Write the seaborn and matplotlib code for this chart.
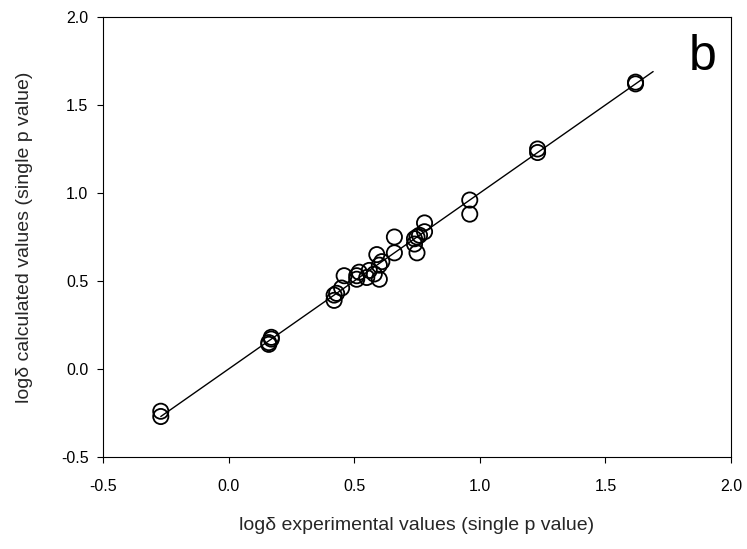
import matplotlib
matplotlib.use("Agg")
import matplotlib.pyplot as plt
import seaborn as sns
import pandas as pd

# Data
exp_vals = [-0.27, -0.27, 0.16, 0.16, 0.17, 0.17, 0.42, 0.42, 0.43, 0.45,
            0.46, 0.51, 0.51, 0.52, 0.55, 0.56, 0.58, 0.59, 0.60, 0.60,
            0.61, 0.66, 0.66, 0.74, 0.74, 0.75, 0.75, 0.76, 0.78, 0.78,
            0.96, 0.96, 1.23, 1.23, 1.62, 1.62]
calc_vals = [-0.24, -0.27, 0.14, 0.15, 0.17, 0.18, 0.39, 0.42, 0.43, 0.46,
             0.53, 0.51, 0.53, 0.55, 0.52, 0.56, 0.54, 0.65, 0.51, 0.59,
             0.61, 0.66, 0.75, 0.71, 0.74, 0.66, 0.75, 0.76, 0.78, 0.83,
             0.96, 0.88, 1.25, 1.23, 1.63, 1.62]
fit_x = [-0.27, 1.69]
fit_y = [-0.27, 1.69]
ticks = [-0.5, 0.0, 0.5, 1.0, 1.5, 2.0]
tick_labels = ["-0.5", "0.0", "0.5", "1.0", "1.5", "2.0"]

sns.set_theme(style="ticks")
plt.rcParams['font.family'] = ['Liberation Sans', 'DejaVu Sans']

df = pd.DataFrame({"exp": exp_vals, "calc": calc_vals})
line_df = pd.DataFrame({"x": fit_x, "y": fit_y})

fig = plt.figure(figsize=(7.47, 5.49), dpi=100)
ax = fig.add_axes([103/747, 1-457/549, (731-103)/747, (457-17)/549])

sns.lineplot(data=line_df, x="x", y="y", ax=ax, color="black", linewidth=1.0)
sns.scatterplot(data=df, x="exp", y="calc", ax=ax, s=120, facecolors="none",
                edgecolor="black", linewidth=1.3, marker="o")

ax.set_xlim(-0.5, 2.0)
ax.set_ylim(-0.5, 2.0)
ax.set_xticks(ticks)
ax.set_xticklabels(tick_labels)
ax.set_yticks(ticks)
ax.set_yticklabels(tick_labels)
ax.tick_params(axis="both", direction="out", length=4.5, width=0.8,
               labelsize=11.5, colors="black")
ax.tick_params(axis="x", pad=11)
ax.tick_params(axis="y", pad=6)
for sp in ax.spines.values():
    sp.set_visible(True)
    sp.set_color("black")
    sp.set_linewidth(0.8)

ax.set_xlabel("logδ experimental values (single p value)", fontsize=14, labelpad=17)
ax.set_ylabel("logδ calculated values (single p value)", fontsize=14, labelpad=20)

ax.text(0.955, 0.91, "b", transform=ax.transAxes, fontsize=36,
        ha="center", va="center", color="black")

fig.savefig("out.png", dpi=100)
